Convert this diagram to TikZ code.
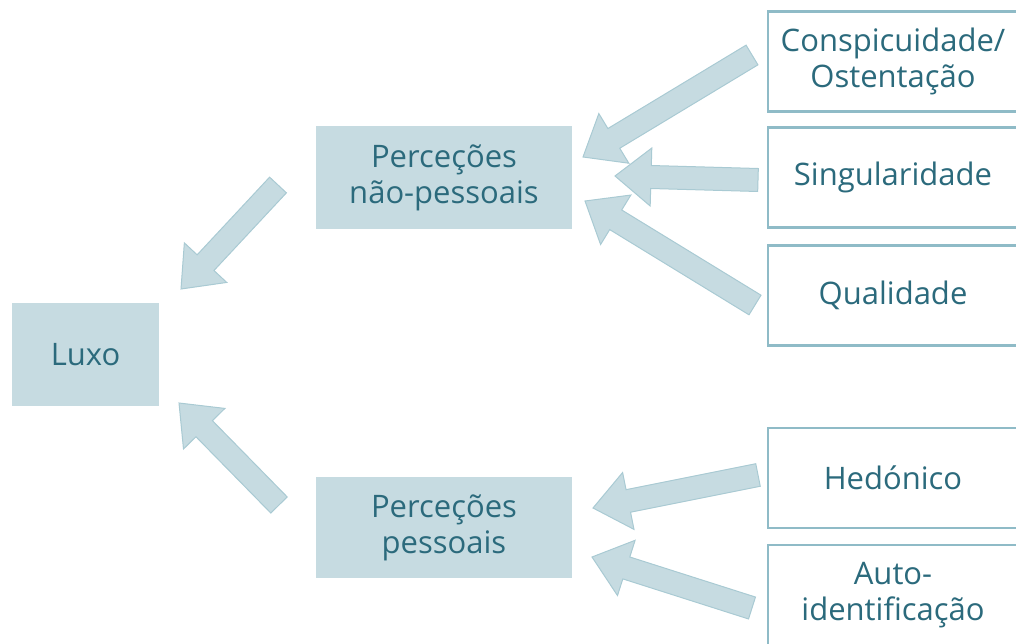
\documentclass[tikz,border=0pt]{standalone}
\usepackage{fontspec}
\setmainfont{Open Sans}
\usetikzlibrary{calc}
\definecolor{boxfill}{HTML}{C6DBE1}
\definecolor{boxline}{HTML}{8FBBC7}
\definecolor{arrowline}{HTML}{A9CAD3}
\definecolor{ink}{HTML}{2B6A7C}

% broad block arrow from a tail coordinate to a tip coordinate
\newcommand\fatarrow[2]{%
  \coordinate (hb) at ($(#2)!36pt!(#1)$);
  \path[fat] ($(#1)!11.5pt!90:(#2)$) -- ($(hb)!11.5pt!90:(#2)$)
    -- ($(hb)!29pt!90:(#2)$) -- (#2) -- ($(hb)!29pt!-90:(#2)$)
    -- ($(hb)!11.5pt!-90:(#2)$) -- ($(#1)!11.5pt!-90:(#2)$) -- cycle;}

\begin{document}
\begin{tikzpicture}[x=1pt,y=-1pt,
  font=\fontsize{31}{36}\selectfont,
  concept/.style={fill=boxfill, text=ink, align=center, inner sep=0pt},
  factor/.style={draw=boxline, line width=2.5pt, fill=white, text=ink,
    align=center, minimum width=250pt, minimum height=100pt, inner sep=0pt},
  fat/.style={fill=boxfill, draw=arrowline, line width=1pt, line join=miter}]
\useasboundingbox (0,0) rectangle (1016,644);
\clip (0,0) rectangle (1016,644);

% central concept and the two kinds of perception
\node[concept, minimum width=147pt, minimum height=103pt] (luxo) at (85.5,354.5) {Luxo};
\node[concept, minimum width=256pt, minimum height=103pt] (np) at (444,177.5) {Perceções\\não-pessoais};
\node[concept, minimum width=256pt, minimum height=101pt] (p) at (444,527.5) {Perceções\\pessoais};

% contributing factors
\node[factor] (cons) at (893,61.5) {Conspicuidade/\\Ostentação};
\node[factor] (sing) at (893,177.5) {Singularidade};
\node[factor] (qual) at (893,295.5) {Qualidade};
\node[factor] (hedo) at (893,478) {Hedónico};
\node[factor] (auto) at (893,595) {Auto-\\identificação};

% arrow end points
\coordinate (t1) at (752,55);  \coordinate (h1) at (583,157);
\coordinate (t2) at (758,180); \coordinate (h2) at (615,176);
\coordinate (t3) at (755,305); \coordinate (h3) at (585,201);
\coordinate (t4) at (758,475); \coordinate (h4) at (593,508);
\coordinate (t5) at (752,608); \coordinate (h5) at (592,557);
\coordinate (t6) at (278,185); \coordinate (h6) at (181,289);
\coordinate (t7) at (279,505); \coordinate (h7) at (179,403);

\fatarrow{t1}{h1}
\fatarrow{t2}{h2}
\fatarrow{t3}{h3}
\fatarrow{t4}{h4}
\fatarrow{t5}{h5}
\fatarrow{t6}{h6}
\fatarrow{t7}{h7}
\end{tikzpicture}
\end{document}
